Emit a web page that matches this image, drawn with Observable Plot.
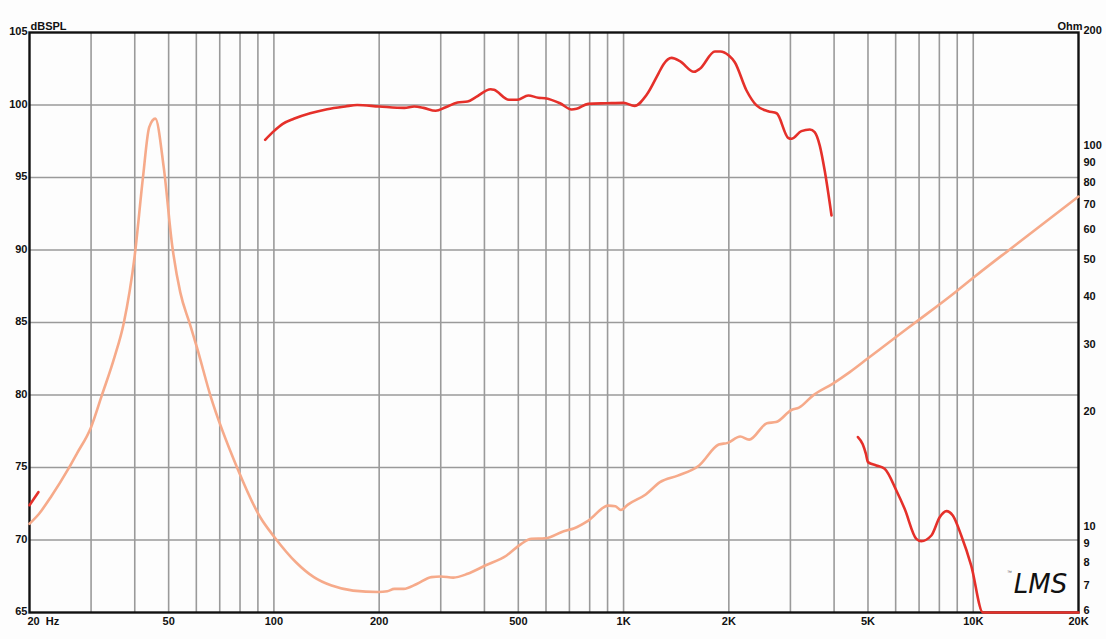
<!DOCTYPE html>
<html><head><meta charset="utf-8">
<script src="https://cdn.jsdelivr.net/npm/d3@7"></script>
<script src="https://cdn.jsdelivr.net/npm/@observablehq/plot@0.6"></script>
<style>
body{margin:0;background:#fdfdfd}
#chart{position:relative;width:1106px;height:639px}
#chart svg{position:absolute;left:0;top:0;overflow:visible}
</style></head><body><div id="chart"></div>
<script>
// SPL (dB) vs frequency (Hz); null = erased/missing section
const splFreq = [20, 21.2, 22, 94.4, 100, 106, 114, 127, 142, 160, 173, 200, 236, 252, 268, 290, 310, 335, 358, 378, 417, 426, 470, 497, 534, 570, 596, 658, 710, 734, 792, 894, 1000, 1075, 1164, 1260, 1300, 1372, 1449, 1589, 1653, 1825, 1890, 2000, 2080, 2247, 2400, 2591, 2740, 2955, 3020, 3225, 3410, 3520, 3640, 3760, 3933, 4200, 4680, 4830, 4930, 5000, 5282, 5580, 6027, 6365, 6874, 7100, 7590, 8018, 8380, 8741, 9240, 9868, 10660, 20000];
const splDb   = [72.4, 73.3, null, 97.6, 98.2, 98.7, 99.05, 99.43, 99.71, 99.9, 100.0, 99.9, 99.8, 99.9, 99.8, 99.6, 99.85, 100.17, 100.24, 100.54, 101.09, 101.05, 100.36, 100.36, 100.66, 100.5, 100.47, 100.12, 99.69, 99.74, 100.08, 100.12, 100.15, 99.94, 100.7, 102.2, 102.8, 103.25, 103.02, 102.29, 102.5, 103.69, 103.69, 103.41, 102.95, 101.0, 99.97, 99.57, 99.43, 97.74, 97.67, 98.2, 98.31, 98.13, 97.2, 95.48, 92.38, null, 77.1, 76.6, 75.95, 75.37, 75.14, 74.91, 73.41, 72.15, 70.08, 69.92, 70.31, 71.57, 71.99, 71.69, 70.31, 68.24, 65.0, 65.0];

// Impedance (Ohm) vs frequency (Hz)
const impFreq = [20, 21.3, 23.0, 25.9, 27.3, 30, 32.2, 35.0, 37.2, 40.0, 42.2, 44.0, 45.8, 48.4, 51.2, 54.0, 57.4, 60.2, 65.8, 78.6, 91.4, 100.4, 115.6, 130.1, 146.2, 168.4, 199, 211, 221, 235, 257, 282, 300, 326, 358, 402, 463, 510, 545, 597, 674, 723, 793, 904, 948, 982, 1029, 1157, 1271, 1429, 1645, 1872, 1985, 2156, 2286, 2571, 2728, 3030, 3174, 3485, 3970, 4434, 5000, 6000, 6990, 8942, 10000, 12850, 20000];
const impOhm  = [10.26, 10.9, 12.05, 14.36, 15.66, 18.4, 22.3, 28.1, 34.5, 52.0, 82.9, 112.9, 118.8, 88.6, 55.0, 41.5, 34.5, 29.85, 22.3, 14.36, 10.67, 9.46, 8.13, 7.43, 7.06, 6.85, 6.79, 6.82, 6.92, 6.92, 7.14, 7.43, 7.46, 7.41, 7.58, 7.97, 8.47, 9.09, 9.37, 9.4, 9.81, 9.99, 10.46, 11.45, 11.4, 11.15, 11.52, 12.25, 13.19, 13.73, 14.6, 16.56, 16.73, 17.39, 17.06, 18.84, 18.97, 20.44, 20.7, 22.3, 23.95, 25.66, 27.9, 31.7, 35.2, 41.8, 45.4, 54.3, 74.2];

const dbTicks = [65, 70, 75, 80, 85, 90, 95, 100, 105];
const dbGrid = [70, 75, 80, 85, 90, 95, 100];
const ohmTicks = [6, 7, 8, 9, 10, 20, 30, 40, 50, 60, 70, 80, 90, 100, 200];
const freqGrid = [30, 40, 50, 60, 70, 80, 90, 100, 200, 300, 400, 500, 600, 700, 800, 900, 1000, 2000, 3000, 4000, 5000, 6000, 7000, 8000, 9000, 10000];
const freqTickValues = [50, 100, 200, 500, 1000, 2000, 5000, 10000, 20000];
const freqTickLabels = ["50", "100", "200", "500", "1K", "2K", "5K", "10K", "20K"];
const firstFreqLabel = {f: 20, label: "20\u00a0\u00a0Hz"};

const W = 1106, H = 639;
const margins = {marginTop: 32, marginRight: 28, marginBottom: 27, marginLeft: 29};
const font = '"Liberation Sans", Arial, Helvetica, sans-serif';
const style = {fontFamily: font, fontSize: "11px", fontWeight: "bold", background: "transparent", color: "#111", overflow: "visible"};

const spl = splFreq.map((f, i) => ({f, v: splDb[i]}));
const imp = impFreq.map((f, i) => ({f, v: impOhm[i]}));
const xLabels = freqTickValues.map((f, i) => ({f, label: freqTickLabels[i]}));

const base = Plot.plot({
  width: W, height: H, ...margins, style,
  x: {type: "log", domain: [20, 20000], axis: null},
  y: {domain: [65, 105], axis: null},
  marks: [
    Plot.ruleX(freqGrid, {stroke: "#9a9a9a", strokeWidth: 1.6}),
    Plot.ruleY(dbGrid, {stroke: "#9a9a9a", strokeWidth: 1.6}),
    Plot.frame({stroke: "#111", strokeWidth: 2.4}),
    Plot.text(dbTicks, {y: d => d, text: d => String(d), frameAnchor: "left", dx: -2, dy: -1, textAnchor: "end", fill: "#111"}),
    Plot.text(xLabels, {x: "f", text: "label", frameAnchor: "bottom", dy: 12, fill: "#111"}),
    Plot.text([firstFreqLabel], {x: "f", text: "label", frameAnchor: "bottom", dy: 12, dx: -2, textAnchor: "start", fill: "#111"}),
    Plot.text(["dBSPL"], {frameAnchor: "top-left", dy: -10, dx: 1, textAnchor: "start", fill: "#111"}),
    Plot.line(spl, {x: "f", y: "v", stroke: "#e5302a", strokeWidth: 2.6, curve: "monotone-x", strokeLinecap: "round", strokeLinejoin: "round"})
  ]
});

const over = Plot.plot({
  width: W, height: H, ...margins, style,
  x: {type: "log", domain: [20, 20000], axis: null},
  y: {type: "log", domain: [6, 200], axis: null},
  marks: [
    Plot.line(imp, {x: "f", y: "v", stroke: "#f6aa8a", strokeWidth: 2.6, curve: "monotone-x", strokeLinecap: "round", strokeLinejoin: "round"}),
    Plot.text(ohmTicks, {y: d => d, text: d => String(d), frameAnchor: "right", dx: 5, dy: -2, textAnchor: "start", fill: "#111"}),
    Plot.text(["Ohm"], {frameAnchor: "top-right", dy: -10, dx: 4, textAnchor: "end", fill: "#111"}),
    Plot.text(["LMS"], {frameAnchor: "bottom-right", dx: -38, dy: -20, textAnchor: "middle", fontSize: 26, fontStyle: "italic", fontWeight: "normal", fontFamily: "DejaVu Sans", fill: "#111", letterSpacing: "1px"}),
    Plot.text(["\u2122"], {frameAnchor: "bottom-right", dx: -69, dy: -39, textAnchor: "middle", fontSize: 5, fontWeight: "normal", fill: "#555"})
  ]
});

const chart = document.getElementById("chart");
chart.appendChild(base);
chart.appendChild(over);
</script>
</body></html>
